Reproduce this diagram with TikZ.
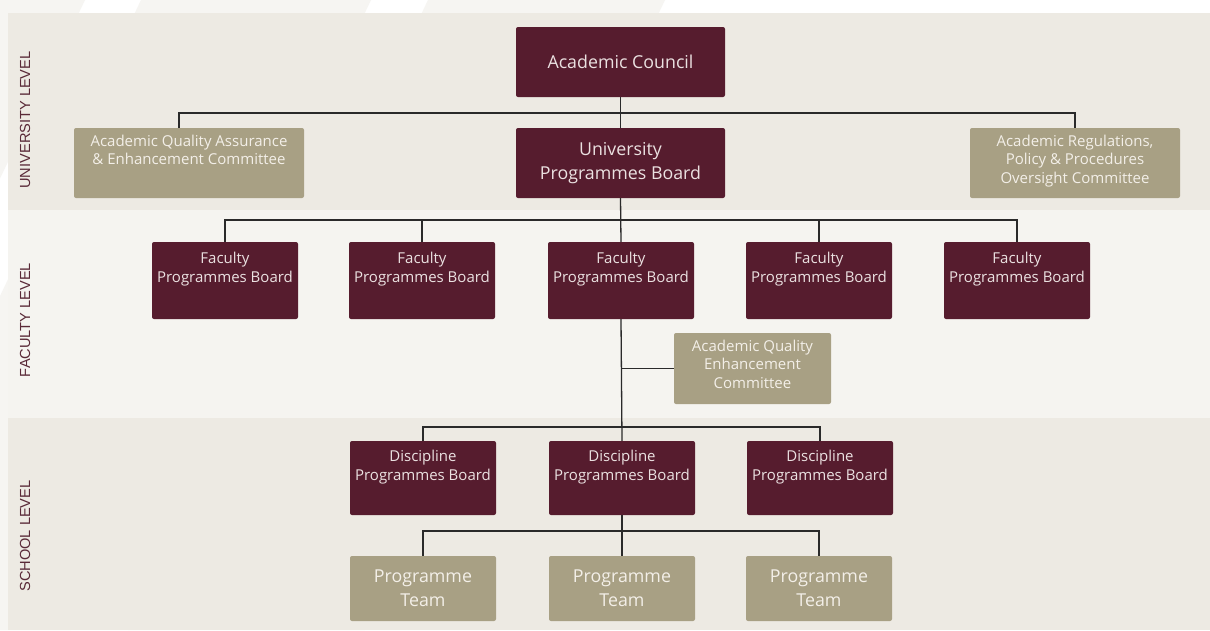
\documentclass[tikz,border=0pt]{standalone}
\usepackage{fontspec}
\setmainfont{Open Sans}
\newfontfamily\sidefont{Liberation Sans}
\definecolor{maroon}{HTML}{561C2E}
\definecolor{khaki}{HTML}{A8A084}
\definecolor{bandA}{HTML}{EDEAE3}
\definecolor{bandB}{HTML}{F5F4F0}
\definecolor{stripe}{HTML}{F6F5F2}
\definecolor{txtM}{HTML}{EBE1E1}
\definecolor{txtK}{HTML}{F3EFE8}
\definecolor{sidec}{HTML}{5A2A38}
\definecolor{linec}{HTML}{2A2A2A}
\begin{document}
\begin{tikzpicture}[x=1pt,y=-1pt,
  mbox/.style={fill=maroon, rounded corners=2pt, draw=none, inner sep=0pt, text=txtM, align=center, font=\fontsize{15}{19}\selectfont},
  kbox/.style={fill=khaki, rounded corners=2pt, draw=none, inner sep=0pt, text=txtK, align=center, font=\fontsize{15}{18.5}\selectfont},
  bigtxt/.style={font=\fontsize{17.8}{24}\selectfont},
  toplbl/.style={anchor=north, align=center, inner sep=0pt},
  side/.style={rotate=90, font=\sidefont\fontsize{14.6}{14.6}\selectfont, text=sidec, inner sep=0pt},
  conn/.style={draw=linec, line width=1.3pt}]
\useasboundingbox (0,0) rectangle (1210,630);
\fill[white] (0,0) rectangle (1210,630);
% faint diagonal background stripes
\fill[stripe] (-300,630) -- (0,0) -- (85,0) -- (-215,630) -- cycle;
\fill[stripe] (141,0) -- (371,0) -- (71,630) -- (-159,630) -- cycle;
\fill[stripe] (428,0) -- (665,0) -- (365,630) -- (128,630) -- cycle;
% level bands
\fill[bandA] (8,13) rectangle (1210,210);
\fill[bandB] (8,210) rectangle (1210,418);
\fill[bandA] (8,418) rectangle (1210,630);
\node[side] (lu) at (25,120) {UNIVERSITY LEVEL};
\node[side] (lf) at (25,320) {FACULTY LEVEL};
\node[side] (ls) at (25,536) {SCHOOL LEVEL};
% university level
\node[mbox, bigtxt, minimum width=209pt, minimum height=70pt] (ac) at (620.5,62) {Academic Council};
\node[mbox, bigtxt, minimum width=209pt, minimum height=70pt] (upb) at (620.5,163) {University\\Programmes Board};
\node[kbox, minimum width=230pt, minimum height=70pt,
  label={[toplbl, text=txtK, font=\fontsize{15}{18.5}\selectfont, yshift=-7pt]north:Academic Quality Assurance\\\& Enhancement Committee}] (aqaec) at (189,163) {};
\node[kbox, minimum width=210pt, minimum height=70pt,
  label={[toplbl, text=txtK, font=\fontsize{15}{18.5}\selectfont, yshift=-7pt]north:Academic Regulations,\\Policy \& Procedures\\Oversight Committee}] (arp) at (1075,163) {};
% faculty level
\foreach \n/\cx in {f1/225, f2/422, f3/621, f4/819, f5/1017}{
  \node[mbox, minimum width=146pt, minimum height=77pt,
    label={[toplbl, text=txtM, font=\fontsize{15}{19}\selectfont, yshift=-10.5pt]north:Faculty\\Programmes Board}] (\n) at (\cx,280.5) {};
}
\node[kbox, minimum width=157pt, minimum height=71pt,
  label={[toplbl, text=txtK, font=\fontsize{15}{18.5}\selectfont, yshift=-7pt]north:Academic Quality\\Enhancement\\Committee}] (aqec) at (752.5,368.5) {};
% school level
\foreach \n/\cx in {d1/423, d2/622, d3/820}{
  \node[mbox, minimum width=146pt, minimum height=74pt,
    label={[toplbl, text=txtM, font=\fontsize{15}{19}\selectfont, yshift=-9.5pt]north:Discipline\\Programmes Board}] (\n) at (\cx,478) {};
}
\foreach \n/\cx in {t1/423, t2/622, t3/819}{
  \node[kbox, bigtxt, minimum width=146pt, minimum height=65pt] (\n) at (\cx,588.5) {Programme\\Team};
}
% junction coordinates
\coordinate (j1) at (620.5,113);
\coordinate (j2) at (620.5,220);
\coordinate (j3) at (621,427);
\coordinate (j4) at (622,531);
% connectors
\draw[conn] (ac.south) -- (upb.north);
\draw[conn] ([xshift=-10pt]aqaec.north) |- (j1) -| (arp.north);
\draw[conn] (upb.south) -- (f3.north);
\draw[conn] (f1.north) |- (j2) -| (f5.north);
\draw[conn] (f2.north) -- (f2.north |- j2);
\draw[conn] (f4.north) -- (f4.north |- j2);
\draw[conn] (f3.south) -- (d2.north);
\draw[conn] (aqec.west) -- (aqec.west -| f3.south);
\draw[conn] (d1.north) |- (j3) -| (d3.north);
\draw[conn] (d2.south) -- (t2.north);
\draw[conn] (t1.north) |- (j4) -| (t3.north);
\end{tikzpicture}
\end{document}
